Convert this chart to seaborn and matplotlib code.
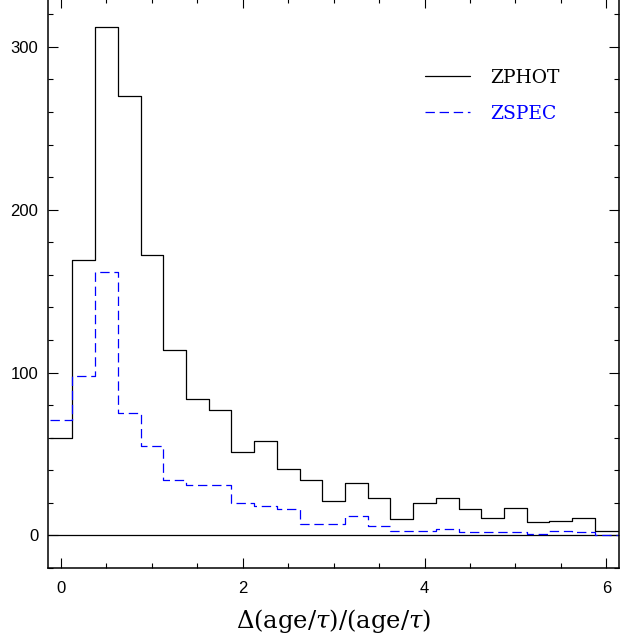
"""step histograms of the relative age/tau error, photometric vs spectroscopic redshifts"""
import matplotlib as mpl
mpl.use('Agg')
import matplotlib.pyplot as plt
from matplotlib.ticker import MultipleLocator

import numpy as np
import pandas as pd
import seaborn as sns

# bin centres and counts
bin_centers = [0.0, 0.25, 0.5, 0.75, 1.0, 1.25, 1.5, 1.75, 2.0, 2.25, 2.5, 2.75,
               3.0, 3.25, 3.5, 3.75, 4.0, 4.25, 4.5, 4.75, 5.0, 5.25, 5.5, 5.75, 6.0]
zphot = [60, 169, 312, 270, 172, 114, 84, 77, 51, 58, 41, 34,
         21, 32, 23, 10, 20, 23, 16, 11, 17, 8, 9, 11, 3]
zspec = [71, 98, 162, 75, 55, 34, 31, 31, 20, 18, 16, 7,
         7, 12, 6, 3, 3, 4, 2, 2, 2, 1, 3, 2, 0]
series_labels = ['ZPHOT', 'ZSPEC']
x_ticks = [0, 2, 4, 6]
y_ticks = [0, 100, 200, 300]

sns.set_style('ticks', {'axes.edgecolor': 'black', 'xtick.color': 'black',
                        'ytick.color': 'black', 'text.color': 'black',
                        'axes.labelcolor': 'black'})
plt.rcParams.update({'font.family': 'Liberation Sans',
                     'mathtext.fontset': 'dejavuserif',
                     'axes.linewidth': 1.1})

df = pd.DataFrame({'center': bin_centers * 2,
                   'count': zphot + zspec,
                   'sample': [series_labels[0]] * len(zphot) + [series_labels[1]] * len(zspec)})

width = bin_centers[1] - bin_centers[0]
brange = (bin_centers[0] - width / 2, bin_centers[-1] + width / 2)

fig = plt.figure(figsize=(6.28, 6.41), dpi=100)
ax = fig.add_axes([48 / 628, 73 / 641, 571 / 628, 570 / 641])

styles = {'ZPHOT': dict(color='black', linestyle='-'),
          'ZSPEC': dict(color='#0000ff', linestyle=(0, (7.5, 3.8)))}
for name in series_labels:
    sub = df[df['sample'] == name]
    sns.histplot(data=sub, x='center', weights='count', binwidth=width,
                 binrange=brange, element='step', fill=False, ax=ax,
                 label=name, linewidth=0.9, **styles[name])

ax.axhline(0, color='black', lw=0.9, zorder=1)

ax.set_xlim(-0.143, 6.14)
ax.set_ylim(-20, 330)
ax.set_xticks(x_ticks)
ax.set_yticks(y_ticks)
ax.xaxis.set_minor_locator(MultipleLocator(0.5))
ax.yaxis.set_minor_locator(MultipleLocator(20))
ax.tick_params(which='both', direction='in', top=True, right=True,
               width=0.8, labelsize=12, colors='black')
ax.tick_params(axis='x', pad=9.5)
ax.tick_params(axis='y', pad=7)
ax.tick_params(which='major', length=7.5)
ax.tick_params(which='minor', length=3.8)

ax.set_xlabel(r'$\Delta(\mathrm{age}/\tau)/(\mathrm{age}/\tau)$', fontsize=17.5,
              labelpad=8, color='black')
ax.set_ylabel('')

leg = ax.legend(frameon=False, loc='upper left', bbox_to_anchor=(0.631, 0.905),
                prop={'family': 'DejaVu Serif', 'size': 13.5},
                handlelength=2.4, handletextpad=1.05, labelspacing=0.95,
                labelcolor='linecolor')

fig.savefig('out.png', dpi=100)
